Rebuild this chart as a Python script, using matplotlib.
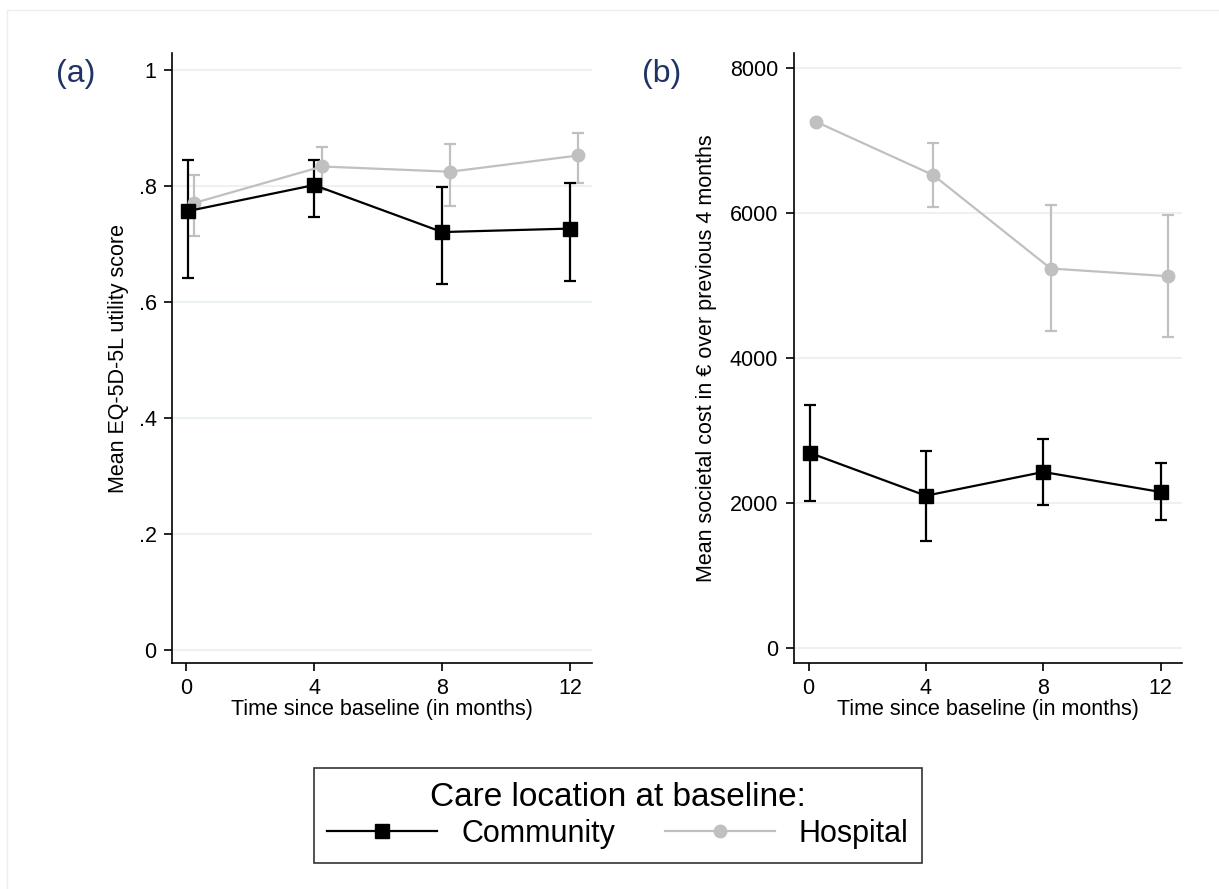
import matplotlib
matplotlib.use("Agg")
import matplotlib.pyplot as plt
from matplotlib.lines import Line2D

plt.rcParams["font.family"] = ["Liberation Sans", "DejaVu Sans"]

# follow-up time points (months); hospital points are drawn slightly offset
months = [0, 4, 8, 12]
hosp_offset = 0.25

# (a) EQ-5D-5L utility
utility_comm = [0.757, 0.802, 0.721, 0.727]
utility_comm_lo = [0.642, 0.747, 0.632, 0.636]
utility_comm_hi = [0.846, 0.846, 0.798, 0.805]
utility_hosp = [0.771, 0.834, 0.825, 0.853]
utility_hosp_lo = [0.714, 0.793, 0.766, 0.806]
utility_hosp_hi = [0.820, 0.868, 0.872, 0.891]

# (b) societal cost (EUR over previous 4 months)
cost_comm = [2690, 2101, 2428, 2152]
cost_comm_lo = [2022, 1476, 1972, 1770]
cost_comm_hi = [3356, 2721, 2883, 2552]
cost_hosp = [7255, 6519, 5232, 5126]
cost_hosp_lo = [7230, 6077, 4377, 4290]
cost_hosp_hi = [7280, 6960, 6101, 5967]

COMM = "black"
HOSP = "#c0c0c0"
GRID = "#e8f0f2"
FS = 15.5


def draw_panel(ax, mean_c, lo_c, hi_c, mean_h, lo_h, hi_h):
    xh = [m + hosp_offset for m in months]
    xc = [m + 0.05 if i == 0 else m for i, m in enumerate(months)]
    for x, mean, lo, hi, col, mk, ms in (
        (xh, mean_h, lo_h, hi_h, HOSP, "o", 9),
        (xc, mean_c, lo_c, hi_c, COMM, "s", 10),
    ):
        err = [[m - l for m, l in zip(mean, lo)], [h - m for m, h in zip(mean, hi)]]
        ax.errorbar(x, mean, yerr=err, color=col, ecolor=col, elinewidth=1.6,
                    capsize=4, capthick=1.6, lw=1.6, marker=mk, ms=ms,
                    mec=col, mfc=col, zorder=3)
    ax.set_xticks(months)
    ax.spines["top"].set_visible(False)
    ax.spines["right"].set_visible(False)
    ax.spines["left"].set_linewidth(1.2)
    ax.spines["bottom"].set_linewidth(1.2)
    ax.tick_params(labelsize=FS, length=6, width=1.2, pad=5)
    ax.yaxis.grid(True, color=GRID, lw=1.2, zorder=0)
    ax.set_axisbelow(True)
    ax.set_xlabel("Time since baseline (in months)", fontsize=FS, labelpad=0)


fig = plt.figure(figsize=(12.19, 8.89), dpi=100)

ax1 = fig.add_axes([0.141, 0.254, 0.345, 0.686])
draw_panel(ax1, utility_comm, utility_comm_lo, utility_comm_hi,
           utility_hosp, utility_hosp_lo, utility_hosp_hi)
ax1.set_xlim(-0.44, 12.69)
ax1.set_ylim(-0.022, 1.029)
ax1.set_yticks([0, 0.2, 0.4, 0.6, 0.8, 1])
ax1.set_yticklabels(["0", ".2", ".4", ".6", ".8", "1"])
ax1.set_ylabel("Mean EQ-5D-5L utility score", fontsize=FS, labelpad=7)

ax2 = fig.add_axes([0.651, 0.254, 0.319, 0.686])
draw_panel(ax2, cost_comm, cost_comm_lo, cost_comm_hi,
           cost_hosp, cost_hosp_lo, cost_hosp_hi)
ax2.set_xlim(-0.51, 12.74)
ax2.set_ylim(-207, 8197)
ax2.set_yticks([0, 2000, 4000, 6000, 8000])
ax2.set_ylabel("Mean societal cost in € over previous 4 months", fontsize=FS, labelpad=9)

fig.text(0.046, 0.917, "(a)", fontsize=23, color="#1f3464", va="center")
fig.text(0.527, 0.917, "(b)", fontsize=23, color="#1f3464", va="center")

handles = [
    Line2D([], [], color=COMM, lw=1.6, marker="s", ms=10),
    Line2D([], [], color=HOSP, lw=1.6, marker="o", ms=9),
]
leg = fig.legend(handles, ["Community", "Hospital"], loc="center",
                 bbox_to_anchor=(0.507, 0.083), ncol=2, fontsize=22,
                 title="Care location at baseline:", title_fontsize=24,
                 handlelength=3.6, columnspacing=1.6, handletextpad=0.8,
                 frameon=True, fancybox=False, borderpad=0.45,
                 labelspacing=0.2, borderaxespad=0)
leg.get_frame().set_edgecolor("black")
leg.get_frame().set_linewidth(1.2)

# faint outer frame of the graph region
fig.add_artist(Line2D([7 / 1219, 7 / 1219], [0, 1 - 10 / 889], color="#eeeeee", lw=1))
fig.add_artist(Line2D([7 / 1219, 1], [1 - 10 / 889, 1 - 10 / 889], color="#eeeeee", lw=1))

fig.savefig("out.png", dpi=100)
